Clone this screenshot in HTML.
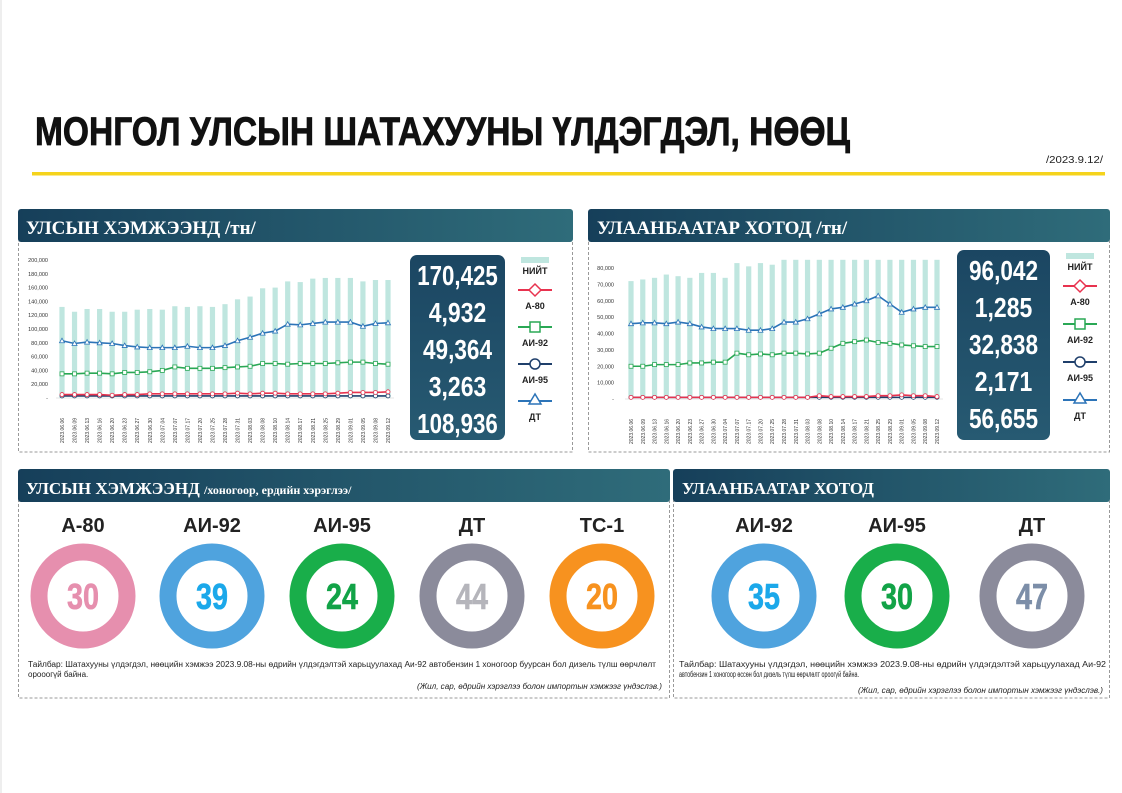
<!DOCTYPE html>
<html><head><meta charset="utf-8">
<style>
html,body{margin:0;padding:0;background:#fff;}
svg{display:block;font-family:"Liberation Sans Narrow","Liberation Sans","DejaVu Sans Condensed",sans-serif;}
</style></head>
<body>
<svg id="s" width="1122" height="793" viewBox="0 0 1122 793" xmlns="http://www.w3.org/2000/svg">
<defs>
<linearGradient id="hg" x1="0" x2="1" y1="0" y2="0"><stop offset="0" stop-color="#163f5a"/><stop offset="1" stop-color="#2f6c7a"/></linearGradient>
<linearGradient id="bg" x1="0" x2="0" y1="0" y2="1"><stop offset="0" stop-color="#1b4662"/><stop offset="1" stop-color="#275a72"/></linearGradient>
</defs>
<rect x="0" y="0" width="1122" height="793" fill="#fff"/>
<line x1="1" y1="0" x2="1" y2="793" stroke="#ddd"/>
<text x="35" y="145" font-size="40" font-weight="bold" fill="#111" stroke="#111" stroke-width="0.8" textLength="815" lengthAdjust="spacingAndGlyphs">МОНГОЛ УЛСЫН ШАТАХУУНЫ ҮЛДЭГДЭЛ, НӨӨЦ</text>
<text x="1046" y="163" font-size="10" fill="#222" textLength="57" lengthAdjust="spacingAndGlyphs">/2023.9.12/</text>
<rect x="32" y="172" width="1073" height="3.5" fill="#f5d31c"/>

<rect x="18.5" y="241" width="554" height="211" fill="none" stroke="#999" stroke-dasharray="3,2"/>
<rect x="18" y="209" width="555" height="33" rx="3" fill="url(#hg)"/>
<text x="26" y="234" font-family="Liberation Serif,serif" font-weight="bold" font-size="19" fill="#fff">УЛСЫН ХЭМЖЭЭНД /тн/</text>

<rect x="588.5" y="241" width="521" height="211" fill="none" stroke="#999" stroke-dasharray="3,2"/>
<rect x="588" y="209" width="522" height="33" rx="3" fill="url(#hg)"/>
<text x="597" y="234" font-family="Liberation Serif,serif" font-weight="bold" font-size="19" fill="#fff">УЛААНБААТАР ХОТОД /тн/</text>

<rect x="18.5" y="501" width="651" height="197" fill="none" stroke="#999" stroke-dasharray="3,2"/>
<rect x="18" y="469" width="652" height="33" rx="3" fill="url(#hg)"/>
<text x="26" y="494" font-family="Liberation Serif,serif" font-weight="bold" font-size="17" fill="#fff">УЛСЫН ХЭМЖЭЭНД <tspan font-size="12">/хоногоор, ердийн хэрэглээ/</tspan></text>

<rect x="673.5" y="501" width="436" height="197" fill="none" stroke="#999" stroke-dasharray="3,2"/>
<rect x="673" y="469" width="437" height="33" rx="3" fill="url(#hg)"/>
<text x="682" y="494" font-family="Liberation Serif,serif" font-weight="bold" font-size="17" fill="#fff">УЛААНБААТАР ХОТОД</text>

<g id="g"></g>

<text x="28" y="667" font-size="8" fill="#222" textLength="628" lengthAdjust="spacingAndGlyphs">Тайлбар: Шатахууны үлдэгдэл, нөөцийн хэмжээ 2023.9.08-ны өдрийн үлдэгдэлтэй харьцуулахад Аи-92 автобензин 1 хоногоор буурсан бол дизель түлш өөрчлөлт</text>
<text x="28" y="677" font-size="8" fill="#222">орооогүй байна.</text>
<text x="662" y="689" font-size="8" font-style="italic" fill="#222" text-anchor="end" textLength="245" lengthAdjust="spacingAndGlyphs">(Жил, сар, өдрийн хэрэглээ болон импортын хэмжээг үндэслэв.)</text>
<text x="679" y="667" font-size="8" fill="#222" textLength="427" lengthAdjust="spacingAndGlyphs">Тайлбар: Шатахууны үлдэгдэл, нөөцийн хэмжээ 2023.9.08-ны өдрийн үлдэгдэлтэй харьцуулахад Аи-92</text>
<text x="679" y="677" font-size="8" fill="#222" textLength="180" lengthAdjust="spacingAndGlyphs">автобензин 1 хоногоор өссөн бол дизель түлш өөрчлөлт ороогүй байна.</text>
<text x="1103" y="693" font-size="8" font-style="italic" fill="#222" text-anchor="end" textLength="245" lengthAdjust="spacingAndGlyphs">(Жил, сар, өдрийн хэрэглээ болон импортын хэмжээг үндэслэв.)</text>
</svg>
<script>
var NS="http://www.w3.org/2000/svg",G=document.getElementById('g');
function el(t,a,txt){var e=document.createElementNS(NS,t);for(var k in a)e.setAttribute(k,a[k]);if(txt!=null)e.textContent=txt;G.appendChild(e);return e;}
var dates=["06.06","06.09","06.13","06.16","06.20","06.23","06.27","06.30","07.04","07.07","07.17","07.20","07.25","07.28","07.31","08.03","08.08","08.10","08.14","08.17","08.21","08.25","08.29","09.01","09.05","09.08","09.12"];
function chart(o){
  var n=dates.length,sx=(o.x1-o.x0)/(n-1);
  function X(i){return o.x0+i*sx;} function Y(v){return o.base-v*o.k;}
  o.ticks.forEach(function(t){el('text',{x:o.lx,y:Y(t)+2,'font-size':5.5,fill:'#333','text-anchor':'end'},t?t.toLocaleString('en-US'):'-');});
  o.tot.forEach(function(v,i){el('rect',{x:X(i)-2.6,y:Y(v),width:5.2,height:v*o.k,fill:'#bfe6df'});});
  el('line',{x1:o.x0-6,x2:o.x1+6,y1:o.base,y2:o.base,stroke:'#ccc','stroke-width':0.6});
  dates.forEach(function(d,i){el('text',{transform:'translate('+(X(i)+2)+','+(o.base+45)+') rotate(-90)','font-size':5,fill:'#333'},'2023.'+d);});
  function line(vals,col,mk){
    el('polyline',{points:vals.map(function(v,i){return X(i)+','+Y(v);}).join(' '),fill:'none',stroke:col,'stroke-width':1.6});
    vals.forEach(function(v,i){var x=X(i),y=Y(v);
      if(mk=='t')el('polygon',{points:x+','+(y-2.5)+' '+(x-2.5)+','+(y+2)+' '+(x+2.5)+','+(y+2),fill:'#fff',stroke:col,'stroke-width':0.8});
      else if(mk=='s')el('rect',{x:x-2,y:y-2,width:4,height:4,fill:'#fff',stroke:col,'stroke-width':0.8});
      else el('circle',{cx:x,cy:y,r:2,fill:'#fff',stroke:col,'stroke-width':0.8});});
  }
  line(o.a95,'#1f3f6b','c');line(o.a80,'#e8334f','c');line(o.a92,'#2aa855','s');line(o.dt,'#2c74b8','t');
  el('rect',{x:o.bx,y:o.by,width:o.bw,height:o.bh,rx:7,fill:'url(#bg)'});
  o.nums.forEach(function(t,i){el('text',{x:o.bx+o.bw/2,y:o.by+30+i*o.ns,'font-size':28,'font-weight':'bold',fill:'#fff','text-anchor':'middle',textLength:t.length*11.5,lengthAdjust:'spacingAndGlyphs'},t);});
  var lx=o.gx,ly=o.gy;
  el('rect',{x:lx-14,y:ly-5,width:28,height:6,fill:'#bfe6df'});
  el('text',{x:lx,y:ly+12,'font-size':9,'font-weight':'bold',fill:'#222','text-anchor':'middle'},'НИЙТ');
  var items=[['А-80','#e8334f','d'],['АИ-92','#2aa855','s'],['АИ-95','#1f3f6b','c'],['ДТ','#2c74b8','t']];
  items.forEach(function(it,i){var y=ly+28+i*o.ls;
    el('line',{x1:lx-17,x2:lx+17,y1:y,y2:y,stroke:it[1],'stroke-width':2});
    if(it[2]=='d')el('polygon',{points:lx+','+(y-6)+' '+(lx+6)+','+y+' '+lx+','+(y+6)+' '+(lx-6)+','+y,fill:'#fff',stroke:it[1],'stroke-width':1.5});
    if(it[2]=='s')el('rect',{x:lx-5,y:y-5,width:10,height:10,fill:'#fff',stroke:it[1],'stroke-width':1.5});
    if(it[2]=='c')el('circle',{cx:lx,cy:y,r:5,fill:'#fff',stroke:it[1],'stroke-width':1.5});
    if(it[2]=='t')el('polygon',{points:lx+','+(y-7)+' '+(lx-6)+','+(y+3)+' '+(lx+6)+','+(y+3),fill:'#fff',stroke:it[1],'stroke-width':1.5});
    el('text',{x:lx,y:y+19,'font-size':9,'font-weight':'bold',fill:'#222','text-anchor':'middle'},it[0]);});
}
chart({x0:62,x1:388,base:398,k:138/200000,lx:48,ticks:[0,20000,40000,60000,80000,100000,120000,140000,160000,180000,200000],
 tot:[132,125,129,129,125,125,128,129,128,133,132,133,132,136,143,147,159,160,169,168,173,174,174,174,169,171,171].map(function(v){return v*1000;}),
 dt:[83,79,81,80,79,76,74,73,73,73,75,73,73,76,83,88,94,97,107,106,108,110,110,110,104,108,109].map(function(v){return v*1000;}),
 a92:[35,35,36,36,35,37,37,38,40,45,43,43,43,44,45,46,50,50,49,50,50,50,51,52,52,50,49].map(function(v){return v*1000;}),
 a80:[5,5,5,5,4,5,5,6,6,6,6,6,6,6,7,6,7,7,6,6,6,6,7,8,8,8,9].map(function(v){return v*1000;}),
 a95:[3,3,3,3,3,3,3,3,3,3,3,3,3,3,3,3,3,3,3,3,3,3,3,3,3,3,3].map(function(v){return v*1000;}),
 bx:410,by:255,bw:95,bh:185,ns:37,nums:['170,425','4,932','49,364','3,263','108,936'],gx:535,gy:262,ls:37});
chart({x0:631,x1:937,base:399,k:131/80000,lx:614,ticks:[0,10000,20000,30000,40000,50000,60000,70000,80000],
 tot:[72,73,74,76,75,74,77,77,74,83,81,83,82,85,85,85,85,85,85,85,85,85,85,85,85,85,85].map(function(v){return v*1000;}),
 dt:[46,46.5,46.5,46,47,46,44,43,43,43,42,42,43,47,47,49,52,55,56,58,60,63,58,53,55,56,56].map(function(v){return v*1000;}),
 a92:[20,20,21,21,21,22,22,22.5,22.5,28,27,27.5,27,28,28,27.5,28,31,34,35,36,34.5,34,33,32.5,32,32].map(function(v){return v*1000;}),
 a80:[1,1,1,1,1,1,1,1,1,1,1,1,1,1,1,1,2,1.5,1.5,1.5,1.5,2,2,2.5,2,2,1.5].map(function(v){return v*1000;}),
 a95:[1,1,1,1,1,1,1,1,1,1,1,1,1,1,1,1,1,1,1,1,1,1,1,1,1,1,1].map(function(v){return v*1000;}),
 bx:957,by:250,bw:93,bh:190,ns:37,nums:['96,042','1,285','32,838','2,171','56,655'],gx:1080,gy:258,ls:38});
var rings=[[83,'А-80','30','#e68fae','#e68fae'],[212,'АИ-92','39','#4fa3de','#1ba8ea'],[342,'АИ-95','24','#19ae4a','#12a347'],[472,'ДТ','44','#8b8b9b','#b5b5bb'],[602,'ТС-1','20','#f7921f','#f7921f'],
 [764,'АИ-92','35','#4fa3de','#1ba8ea'],[897,'АИ-95','30','#19ae4a','#12a347'],[1032,'ДТ','47','#8b8b9b','#7c8ea8']];
rings.forEach(function(r){
  el('text',{x:r[0],y:532,'font-size':20,'font-weight':'bold',fill:'#222','text-anchor':'middle'},r[1]);
  el('circle',{cx:r[0],cy:596,r:44,fill:'none',stroke:r[3],'stroke-width':17});
  el('text',{x:r[0],y:609,'font-size':36,'font-weight':'bold',fill:r[4],stroke:r[4],'stroke-width':0.6,'text-anchor':'middle',textLength:32,lengthAdjust:'spacingAndGlyphs'},r[2]);
});
</script>
</body></html>
